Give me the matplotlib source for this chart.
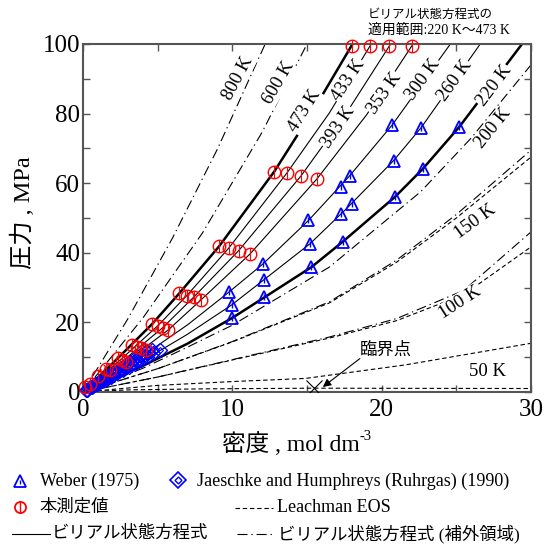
import matplotlib
matplotlib.use('Agg')
import matplotlib.pyplot as plt

plt.rcParams['font.family'] = ['Liberation Serif', 'Noto Sans CJK JP']
MIX = ['Liberation Serif', 'Noto Sans CJK JP']

# ---------------- data (density mol/dm3, pressure MPa) ----------------
# virial EOS isotherms (valid range, solid)
rho_473 = [0, 2.33, 4.62, 6.46, 9.12, 12.8, 15.5, 18.05]
p_473 = [0, 9.7, 19.5, 28.4, 41.9, 63.3, 81.5, 100]
rho_433 = [0, 2.6, 5.0, 6.95, 9.75, 13.65, 16.5, 19.3]
p_433 = [0, 9.6, 19.0, 27.7, 41.3, 62.9, 80.2, 100]
rho_393 = [0, 2.8, 5.34, 7.4, 10.42, 14.6, 17.6, 20.6]
p_393 = [0, 9.4, 18.5, 27.2, 40.6, 62.1, 79.9, 100]
rho_353 = [0, 3.0, 5.7, 7.91, 11.17, 15.66, 19.0, 22.1]
p_353 = [0, 9.1, 17.8, 26.5, 39.6, 61.2, 79.7, 100]
rho_300 = [0, 4, 7, 9.8, 12.05, 15.1, 17.85, 20.7, 24.6]
p_300 = [0, 10.4, 19.3, 28.8, 36.8, 49.3, 62.1, 76.7, 100]
rho_260 = [0, 4, 7, 9.95, 12.1, 15.2, 17.6, 20.8, 22.65, 26.6]
p_260 = [0, 8.95, 16.6, 25.0, 32.2, 42.6, 52.5, 66.5, 76.0, 100]
rho_220 = [0, 4, 7, 10, 12.15, 15.3, 17.4, 20.9, 22.75, 25.2, 29.4]
p_220 = [0, 7.5, 13.9, 21.3, 27.2, 35.9, 43.2, 56.1, 64.1, 76.2, 100]

# virial EOS isotherms (extrapolated, dash-dot)
rho_800 = [0, 3, 6, 9, 12.2]
p_800 = [0, 21.0, 44.3, 69.8, 100]
rho_600 = [0, 4, 8, 12, 15.0]
p_600 = [0, 21.2, 45.7, 74.7, 100]
rho_200 = [0, 4, 7, 10, 16.5, 22.6, 26, 30]
p_200 = [0, 6.8, 12.9, 19.2, 35.9, 57.5, 73, 94]
rho_150 = [0, 5, 10, 16.5, 21, 25, 30]
p_150 = [0, 6.7, 14.5, 25.9, 37.9, 51, 69.5]
rho_100 = [0, 5, 10, 16.5, 21, 25.5, 30]
p_100 = [0, 4.3, 9.3, 15.8, 21.1, 29.2, 46]

# Leachman EOS (dashed)
rho_L150 = [0, 5, 10, 16.5, 21, 25, 30]
p_L150 = [0, 6.7, 14.4, 25.6, 37.3, 50, 67.5]
rho_L100 = [0, 5, 10, 16.5, 21, 25.5, 30]
p_L100 = [0, 4.3, 9.2, 15.5, 20.5, 28.0, 41.7]
rho_L50 = [0, 5, 10, 14.9, 21.6, 30]
p_L50 = [0, 1.9, 3.0, 3.9, 7.8, 14.0]
rho_Lc = [0, 3, 8, 15.5, 22, 30]
p_Lc = [0, 0.6, 0.9, 1.1, 1.05, 1.0]

# measurements
weber_rho = [9.8, 9.95, 10.0, 12.05, 12.1, 12.15, 15.1, 15.2, 15.3,
             17.3, 17.85, 17.3, 18.0, 17.4, 20.7, 20.8, 20.9, 22.65, 22.75, 25.2]
weber_p = [28.8, 25.0, 21.3, 36.8, 32.2, 27.2, 49.3, 42.6, 35.9,
           59.0, 62.1, 51.1, 54.0, 43.2, 76.7, 66.5, 56.1, 76.0, 64.1, 76.2]

jh_rho = [0.2, 0.5, 0.8, 1.1, 1.4, 1.75, 2.1, 2.45, 2.8, 3.15, 3.5, 3.85, 4.2,
          0.25, 0.6, 0.95, 1.3, 1.65, 2.0, 2.4, 2.8, 3.2, 3.6, 4.0, 4.35, 4.65,
          0.3, 0.7, 1.1, 1.5, 1.9, 2.3, 2.7, 3.1, 3.5, 3.9, 4.3, 4.7, 5.15]
jh_p = [0.54, 1.36, 2.18, 3.0, 3.82, 4.78, 5.75, 6.72, 7.7, 8.68, 9.66, 10.65, 11.65,
        0.61, 1.48, 2.35, 3.23, 4.12, 5.02, 6.05, 7.1, 8.15, 9.2, 10.3, 11.2, 12.0,
        0.68, 1.6, 2.52, 3.45, 4.38, 5.32, 6.27, 7.22, 8.18, 9.15, 10.1, 11.1, 12.1]

meas_rho = [17.99, 19.22, 20.51, 22.05,
            12.8, 13.65, 14.6, 15.66,
            9.12, 9.75, 10.42, 11.17,
            6.46, 6.95, 7.40, 7.91,
            4.62, 5.0, 5.34, 5.70,
            3.28, 3.60, 3.89, 4.22,
            2.33, 2.61, 2.88,
            1.57, 1.79, 1.0, 0.45, 0.11]
meas_p = [99.3, 99.3, 99.3, 99.3,
          63.3, 62.9, 62.1, 61.2,
          41.9, 41.3, 40.6, 39.6,
          28.4, 27.7, 27.2, 26.5,
          19.5, 19.0, 18.5, 17.7,
          13.5, 13.0, 12.6, 12.0,
          9.7, 9.2, 8.5,
          6.7, 6.2, 4.5, 2.4, 1.3]

crit_rho, crit_p = 15.5, 1.1

# isotherm labels: text, x, y, rotation
lab_text = ['800 K', '600 K', '473 K', '433 K', '393 K', '353 K', '300 K', '260 K',
            '220 K', '200 K', '150 K', '100 K', '50 K']
lab_x = [10.37, 13.08, 14.86, 17.74, 17.1, 20.19, 22.8, 24.88, 27.56, 27.43, 26.25, 25.25, 27.12]
lab_y = [90.2, 88.8, 80.7, 89.7, 76.0, 85.8, 89.9, 89.4, 87.9, 75.7, 48.8, 25.8, 5.95]
lab_rot = [62, 60, 58, 56, 56, 55, 54, 54, 53, 51, 36, 33, 0]

# ---------------- figure ----------------
W, H = 550, 545
fig = plt.figure(figsize=(W / 100, H / 100), dpi=100)
ax = fig.add_axes([83 / W, 1 - 392 / H, (531 - 83) / W, (392 - 44) / H])

thin = dict(color='black', lw=0.8, solid_capstyle='butt')
thick = dict(color='black', lw=1.8)
dd = dict(color='black', lw=0.8, linestyle=(0, (9, 3.5, 1.2, 3.5)))
dsh = dict(color='black', lw=0.8, linestyle=(0, (4, 2.5)))

for r, p in [(rho_433, p_433), (rho_393, p_393), (rho_353, p_353),
             (rho_300, p_300), (rho_260, p_260)]:
    ax.plot(r, p, **thin)
for r, p in [(rho_473, p_473), (rho_220, p_220)]:
    ax.plot(r, p, **thick)
for r, p in [(rho_L150, p_L150), (rho_L100, p_L100), (rho_L50, p_L50), (rho_Lc, p_Lc)]:
    ax.plot(r, p, **dsh)
for r, p in [(rho_800, p_800), (rho_600, p_600), (rho_200, p_200),
             (rho_150, p_150), (rho_100, p_100)]:
    ax.plot(r, p, **dd)

# markers
blue = '#0000ff'
red = '#ff0000'
ax.plot(jh_rho, jh_p, 'D', ms=7, mfc='none', mec=blue, mew=1.0, zorder=5, clip_on=False)
ax.plot(jh_rho, jh_p, 'D', ms=3, mfc='none', mec=blue, mew=0.8, zorder=5, clip_on=False)
ax.plot(weber_rho, weber_p, '^', ms=9, mfc='none', mec=blue, mew=1.3, zorder=6)
ax.plot(weber_rho, weber_p, '|', ms=4, mec=blue, mew=1.0, zorder=6)
ax.plot(meas_rho, meas_p, 'o', ms=9, mfc='none', mec=red, mew=1.0, zorder=7, clip_on=False)
ax.plot(meas_rho, meas_p, '|', ms=9, mec=red, mew=0.8, zorder=7, clip_on=False)
ax.plot([crit_rho], [crit_p], 'x', ms=11, mec='black', mew=0.8, zorder=8)

for t, x, y, r in zip(lab_text, lab_x, lab_y, lab_rot):
    bb = dict(facecolor='white', edgecolor='none', pad=0.5) if r else None
    ax.text(x, y, t, rotation=r, ha='center', va='center', fontsize=13.5,
            family=MIX, bbox=bb, zorder=4, rotation_mode='anchor')

ax.annotate('', xy=(16.06, 1.44), xytext=(18.54, 9.6),
            arrowprops=dict(arrowstyle='-|>', color='black', lw=0.8,
                            mutation_scale=12, shrinkA=0, shrinkB=0))
ax.text(20.3, 12.0, '臨界点', ha='center', va='center', fontsize=12.5,
        family=MIX)

ax.set_xlim(0, 30)
ax.set_ylim(0, 100)
ax.set_xticks([0, 10, 20, 30])
ax.set_xticks([5, 15, 25], minor=True)
ax.set_yticks([0, 20, 40, 60, 80, 100])
ax.set_yticks([10, 30, 50, 70, 90], minor=True)
ax.tick_params(which='both', direction='in', top=True, right=True, length=5,
               width=1.0, color='#555555', labelsize=18)
ax.tick_params(axis='x', pad=5)
ax.tick_params(axis='y', pad=2)
for s in ax.spines.values():
    s.set_color('#555555')
    s.set_linewidth(1.5)

# overlay in pixel coordinates for labels and legend
lax = fig.add_axes([0, 0, 1, 1], facecolor='none')
lax.set_xlim(0, W)
lax.set_ylim(H, 0)
lax.axis('off')

lax.text(23, 213, '圧力 , MPa', rotation=90, ha='center', va='center', fontsize=17.5, family=MIX)
lax.text(222, 444, '密度 , mol dm', ha='left', va='center', fontsize=17, family=MIX)
lax.text(359, 436, '-3', ha='left', va='center', fontsize=10.5, family=MIX)

lax.text(368, 15, 'ビリアル状態方程式の', ha='left', va='center', fontsize=9, family=MIX)
lax.text(368, 30, '適用範囲:220 K〜473 K', ha='left', va='center', fontsize=10, family=MIX)

# legend
lfs = 12.5
lfl = 13
lax.plot([20], [481], '^', ms=8, mfc='none', mec=blue, mew=1.3)
lax.plot([20], [482], '|', ms=3.5, mec=blue, mew=1.0)
lax.text(40, 481, 'Weber (1975)', ha='left', va='center', fontsize=lfl, family=MIX)
lax.plot([178], [480], 'D', ms=8, mfc='none', mec=blue, mew=1.2)
lax.plot([178], [480], 'D', ms=3.5, mfc='none', mec=blue, mew=1.0)
lax.text(197, 481, 'Jaeschke and Humphreys (Ruhrgas) (1990)', ha='left', va='center',
         fontsize=lfl, family=MIX)
lax.plot([20], [507], 'o', ms=8, mfc='none', mec=red, mew=1.3)
lax.plot([20], [507], '|', ms=8, mec=red, mew=1.0)
lax.text(39, 507, '本測定値', ha='left', va='center', fontsize=lfs, family=MIX)
lax.plot([235, 273], [508, 508], **dsh)
lax.text(277, 507, 'Leachman EOS', ha='left', va='center', fontsize=lfl, family=MIX)
lax.plot([12, 50], [534, 534], color='black', lw=0.8)
lax.text(52, 534, 'ビリアル状態方程式', ha='left', va='center', fontsize=lfs, family=MIX)
lax.plot([237, 275], [534, 534], **dd)
lax.text(278, 534, 'ビリアル状態方程式 (補外領域)', ha='left', va='center', fontsize=lfs, family=MIX)

fig.savefig('out.png', dpi=100)
